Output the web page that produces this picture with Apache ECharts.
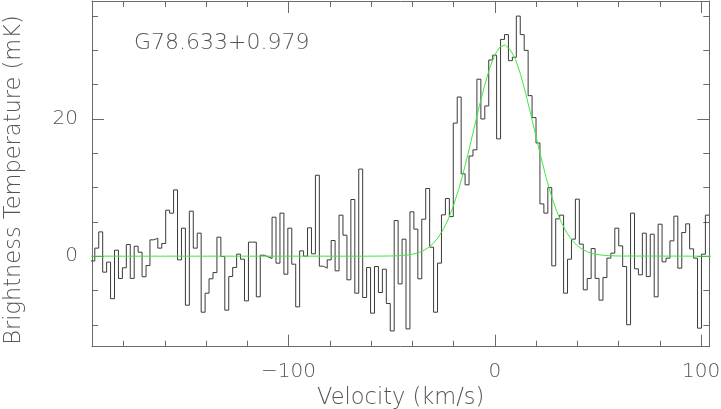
<!DOCTYPE html>
<html><head><meta charset="utf-8">
<script src="https://cdn.jsdelivr.net/npm/echarts@6/dist/echarts.min.js"></script>
<style>html,body{margin:0;padding:0;background:#fff}#c{width:721px;height:409px}</style>
</head><body><div id="c"></div>
<script>
const sourceName = 'G78.633+0.979';
const xAxisName = 'Velocity (km/s)';
const yAxisName = 'Brightness Temperature (mK)';
// spectral channel grid (km/s): left edge of first channel and channel width
const velStart = -195.85;
const chanWidth = 1.91;
// brightness temperature per channel (mK)
const tb = [
 -0.7, 1.17, 3.54, -2.33, -0.87, -6.2, 0.87, -3.26, -1.7, 1.7,
 -3.24, 1.45, 0.58, -3.0, -1.37, 2.38, 2.62, 1.17, 1.84, 6.7,
 6.27, 9.66, -0.54, 4.08, -7.15, 6.56, 1.17, 3.35, -8.17, -5.4,
 -3.3, -2.39, 2.77, -0.05, -7.87, -2.97, -1.66, 0.29, -0.44, -6.52,
 2.04, 2.04, -5.93, 0.14, -0.1, -0.34, 5.68, -1.02, 6.27, -2.63,
 4.08, -1.17, -7.39, 0.77, 0.0, 4.13, 0.34, 11.8, -1.46, -1.75,
 -0.54, 2.28, -2.14, 5.98, 3.06, -3.45, 8.26, -5.4, 12.7, -6.03,
 -1.66, -8.31, -1.51, -5.3, -1.9, -6.9, -10.9, 5.19, -4.04, 2.48,
 -10.6, 6.46, 3.94, -3.3, 5.39, 9.86, 1.31, -8.17, -1.02, 6.02,
 8.4, 5.77, 19.4, 23.2, 12.0, 10.4, 14.6, 15.5, 25.8, 20.0,
 21.9, 28.6, 29.3, 17.1, 31.6, 32.3, 28.5, 29.0, 35.0, 32.3,
 30.0, 23.4, 20.2, 16.5, 7.62, 6.27, 10.0, -1.41, 5.44, 5.98,
 -5.4, -0.44, 2.48, 8.31, 1.75, -4.91, -3.26, 1.11, -3.24, -6.41,
 -3.12, -0.29, 0.44, 4.08, 1.5, -1.51, -10.0, 6.27, -1.85, -2.72,
 3.35, -2.97, 3.2, -5.93, 4.66, -0.83, -0.29, 2.23, 5.83, -1.75,
 3.44, 4.71, 1.06, -0.29, -10.5, 0.29, 5.98
];
// gaussian fit curve
const fitVel = [-196, -60, -55, -50, -47.5, -45, -42.5, -40, -37.5, -35, -32.5, -30, -27.5, -25, -22.5, -20, -17.5, -15, -12.5, -10, -7.5, -5, -2.5, 0, 2.5, 5, 7.5, 10, 12.5, 15, 17.5, 20, 22.5, 25, 27.5, 30, 32.5, 35, 37.5, 40, 42.5, 45, 47.5, 50, 52.5, 55, 60, 105];
const fitT = [0, 0, 0.01, 0.03, 0.05, 0.09, 0.16, 0.28, 0.46, 0.75, 1.19, 1.82, 2.70, 3.89, 5.44, 7.39, 9.74, 12.5, 15.5, 18.7, 21.9, 24.8, 27.4, 29.35, 30.5, 30.8, 30.1, 28.7, 26.5, 23.7, 20.6, 17.4, 14.3, 11.3, 8.75, 6.55, 4.77, 3.37, 2.31, 1.54, 0.99, 0.62, 0.38, 0.22, 0.13, 0.07, 0.02, 0];
const xTickLabels = [-100, 0, 100];
const yTickLabels = [0, 20];
const xRange = [-195.3, 104];
const yRange = [-13.2, 37.2];

const stepData = tb.map((t, i) => [velStart + i * chanWidth, t]);
stepData.push([velStart + tb.length * chanWidth, tb[tb.length - 1]]);
const fitData = fitVel.map((v, i) => [v, fitT[i]]);

const frame = '#6a6a6a';
const txt = '#555';
const font = 'DejaVu Sans';
const fw = 200;
function fmtX(v) {
  if (!xTickLabels.includes(v)) return '';
  return v < 0 ? '\u2212' + Math.abs(v) : String(v);
}
function fmtY(v) { return yTickLabels.includes(v) ? String(v) : ''; }
const baseX = {
  type: 'value', min: xRange[0], max: xRange[1], splitNumber: 3,
  axisLine: { show: true, onZero: false, lineStyle: { color: frame, width: 1 } },
  axisTick: { show: true, inside: true, length: 12, lineStyle: { color: frame, width: 1 } },
  minorTick: { show: true, splitNumber: 5, length: 6, lineStyle: { color: frame, width: 1 } },
  splitLine: { show: false }, minorSplitLine: { show: false }
};
const baseY = {
  type: 'value', min: yRange[0], max: yRange[1], splitNumber: 3,
  axisLine: { show: true, onZero: false, lineStyle: { color: frame, width: 1 } },
  axisTick: { show: true, inside: true, length: 12, lineStyle: { color: frame, width: 1 } },
  minorTick: { show: true, splitNumber: 4, length: 6, lineStyle: { color: frame, width: 1 } },
  splitLine: { show: false }, minorSplitLine: { show: false }
};
const chart = echarts.init(document.getElementById('c'));
chart.setOption({
  animation: false,
  backgroundColor: '#fff',
  title: { text: sourceName, left: 134, top: 32, padding: 0,
    textStyle: { fontSize: 22, fontWeight: fw, color: txt, fontFamily: font } },
  grid: { left: 92, right: 11.7, top: 1, bottom: 62.3, outerBoundsMode: 'none', containLabel: false },
  graphic: [{
    type: 'text', x: 14, y: 180, rotation: Math.PI / 2, silent: true,
    style: { text: yAxisName, fontSize: 22.5, fontWeight: fw, fill: txt, fontFamily: font,
      align: 'center', verticalAlign: 'middle' }
  }],
  xAxis: [
    Object.assign({}, baseX, { position: 'bottom',
      axisLabel: { show: true, formatter: fmtX, fontSize: 20, fontWeight: fw, color: txt, fontFamily: font, margin: 15, interval: 0 },
      name: xAxisName, nameLocation: 'middle', nameGap: 39,
      nameTextStyle: { fontSize: 22.5, fontWeight: fw, color: txt, fontFamily: font } }),
    Object.assign({}, baseX, { position: 'top', axisLabel: { show: false } })
  ],
  yAxis: [
    Object.assign({}, baseY, { position: 'left',
      axisLabel: { show: true, formatter: fmtY, fontSize: 20, fontWeight: fw, color: txt, fontFamily: font, margin: 14, interval: 0 },
      nameTextStyle: { fontSize: 22.5, color: txt, fontFamily: font } }),
    Object.assign({}, baseY, { position: 'right', axisLabel: { show: false } })
  ],
  series: [
    { type: 'line', data: stepData, step: 'end', symbol: 'none', clip: true,
      lineStyle: { color: '#3a3a3a', width: 1 }, z: 2 },
    { type: 'line', data: fitData, symbol: 'none', clip: true,
      lineStyle: { color: '#3ee83e', width: 1 }, z: 3 }
  ]
});
</script></body></html>
